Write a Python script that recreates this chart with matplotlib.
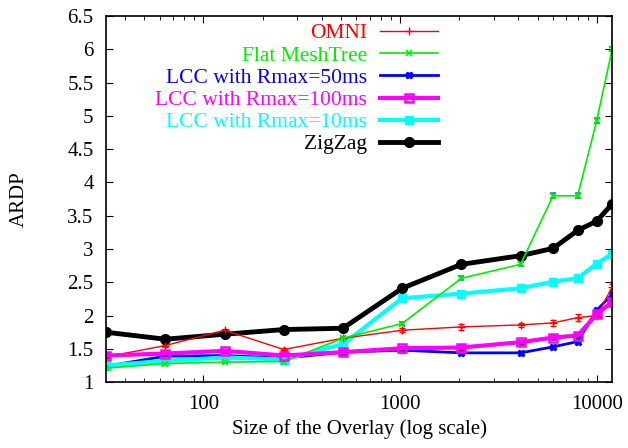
import matplotlib
matplotlib.use("Agg")
import matplotlib.pyplot as plt
from matplotlib.lines import Line2D
from matplotlib.ticker import FuncFormatter, MultipleLocator

plt.rcParams['font.family'] = ['Liberation Serif', 'DejaVu Serif']
plt.rcParams['font.size'] = 15

# overlay sizes
sizes = [32, 64, 128, 256, 512, 1024, 2048, 4096, 6000, 8000, 10000, 12000]

omni = [1.38, 1.55, 1.78, 1.49, 1.66, 1.78, 1.83, 1.86, 1.89, 1.97, 2.00, 2.43]
omni_err = [0.02, 0.02, 0.02, 0.02, 0.02, 0.03, 0.04, 0.03, 0.05, 0.05, 0.03, 0.04]
meshtree = [1.21, 1.28, 1.30, 1.31, 1.66, 1.88, 2.56, 2.77, 3.80, 3.80, 4.93, 6.01]
meshtree_err = [0.01, 0.01, 0.01, 0.01, 0.02, 0.02, 0.03, 0.03, 0.04, 0.04, 0.04, 0.03]
lcc50 = [1.24, 1.39, 1.40, 1.36, 1.45, 1.48, 1.44, 1.44, 1.53, 1.61, 2.08, 2.32]
lcc100 = [1.40, 1.43, 1.47, 1.40, 1.45, 1.51, 1.52, 1.60, 1.67, 1.70, 2.02, 2.21]
lcc100_err = [0.02, 0.02, 0.02, 0.02, 0.02, 0.02, 0.03, 0.02, 0.02, 0.03, 0.03, 0.03]
lcc10 = [1.25, 1.32, 1.37, 1.34, 1.57, 2.26, 2.33, 2.41, 2.51, 2.56, 2.78, 2.93]
zigzag = [1.75, 1.645, 1.72, 1.79, 1.81, 2.41, 2.77, 2.90, 3.01, 3.28, 3.42, 3.68]

labels = ['OMNI', 'Flat MeshTree', 'LCC with Rmax=50ms', 'LCC with Rmax=100ms',
          'LCC with Rmax=10ms', 'ZigZag']
colors = ['#ff0000', '#00ee00', '#0000ff', '#ff00ff', '#00ffff', 'black']

fig = plt.figure(figsize=(6.28, 4.48), dpi=100)
ax = fig.add_axes([0.169, 0.147, 0.806, 0.817])

# line styles per series
styles = [
    dict(lw=1, marker='+', ms=6),
    dict(lw=1.2, marker='x', ms=4, mew=1.2),
    dict(lw=2, marker='X', ms=5),
    dict(lw=3, marker='s', ms=6, mfc='none', mew=1.8),
    dict(lw=3, marker='s', ms=6),
    dict(lw=3.5, marker='o', ms=7),
]

ax.errorbar(sizes, omni, yerr=omni_err, color=colors[0], capsize=2, elinewidth=1, **styles[0])
ax.errorbar(sizes, meshtree, yerr=meshtree_err, color=colors[1], ecolor='#4060ff',
            capsize=2, elinewidth=1, **styles[1])
ax.plot(sizes, lcc50, color=colors[2], **styles[2])
ax.errorbar(sizes, lcc100, yerr=lcc100_err, color=colors[3], capsize=2, elinewidth=1,
            ecolor='#303030', **styles[3])
ax.plot(sizes, lcc10, color=colors[4], **styles[4])
ax.plot(sizes, zigzag, color=colors[5], **styles[5])

ax.set_xscale('log')
ax.set_xlim(sizes[0], sizes[-1])
ax.set_ylim(1, 6.5)
ax.yaxis.set_major_locator(MultipleLocator(0.5))
ax.yaxis.set_major_formatter(FuncFormatter(lambda v, p: f"{v:g}"))
ax.xaxis.set_major_formatter(FuncFormatter(lambda v, p: f"{v:g}"))
ax.tick_params(which='both', direction='in', top=True, right=True)
ax.tick_params(which='major', length=5, pad=9)
ax.tick_params(which='minor', length=3)
for s in ax.spines.values():
    s.set_linewidth(1.2)

ax.set_xlabel('Size of the Overlay (log scale)', labelpad=4)
ax.set_ylabel('ARDP', labelpad=28)

handles = [Line2D([], [], color=c, **st) for c, st in zip(colors, styles)]
leg = ax.legend(handles, labels, loc='upper right', bbox_to_anchor=(0.715, 0.972),
                bbox_transform=fig.transFigure, frameon=False, markerfirst=False,
                fontsize=15.5, handlelength=2.7, labelspacing=0.1, borderpad=0,
                handletextpad=0.6)
for text, c in zip(leg.get_texts(), colors):
    text.set_color(c)
leg._legend_box.align = "right"

fig.savefig('out.png', dpi=100)
